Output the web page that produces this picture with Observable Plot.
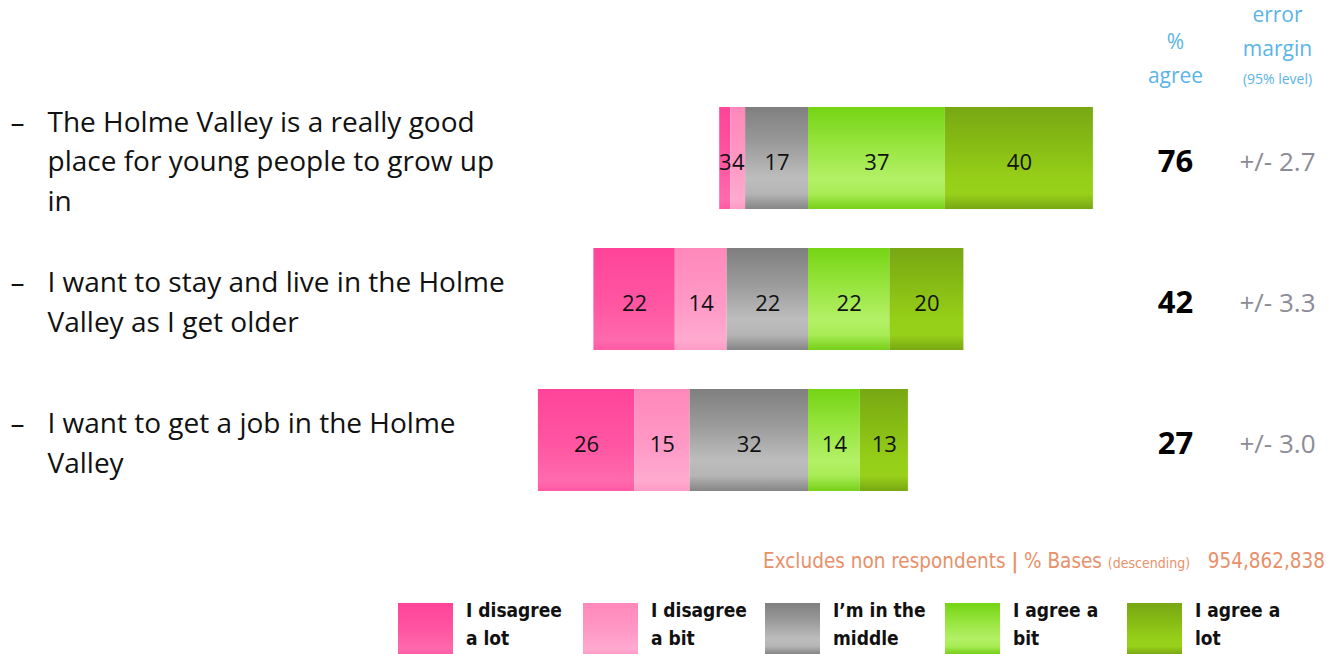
<!DOCTYPE html>
<html>
<head>
<meta charset="utf-8">
<script src="https://cdn.jsdelivr.net/npm/d3@7"></script>
<script src="https://cdn.jsdelivr.net/npm/@observablehq/plot@0.6"></script>
<style>
  html, body { margin: 0; padding: 0; background: #fff; }
  #wrap { position: relative; width: 1330px; height: 654px; overflow: hidden; font-family: "Open Sans", sans-serif; }
  #chart { position: absolute; left: 0; top: 0; }
  #foot { position: absolute; right: 5px; top: 549px; font-family: "Liberation Sans Narrow", "DejaVu Sans Condensed", sans-serif; font-size: 20.5px; color: #e8906a; white-space: nowrap; }
  #foot small { font-size: 14px; }
  #foot b { font-weight: bold; }
  #legend { position: absolute; left: 0; top: 0; width: 1330px; height: 654px; pointer-events: none; }
  .item { position: absolute; top: 603px; }
  .sw { position: absolute; left: 0; top: 0; width: 55px; height: 51px; }
  .lab { position: absolute; left: 68px; top: -7px; width: 112px; font-family: "Liberation Sans Narrow", "DejaVu Sans Condensed", sans-serif; font-weight: bold; font-size: 19px; line-height: 28px; color: #111; white-space: nowrap; }
</style>
</head>
<body>
<div id="wrap">
  <div id="chart"></div>
  <div id="foot">Excludes non respondents <b>|</b> % Bases <small>(descending)</small>&nbsp;&nbsp;&nbsp;954,862,838</div>
  <div id="legend"></div>
</div>
<script>
// ---- data ----
const statements = [
  "The Holme Valley is a really good\nplace for young people to grow up\nin",
  "I want to stay and live in the Holme\nValley as I get older",
  "I want to get a job in the Holme\nValley"
];
const categories = ["I disagree a lot", "I disagree a bit", "I'm in the middle", "I agree a bit", "I agree a lot"];
const legendLabels = ["I disagree\na lot", "I disagree\na bit", "I’m in the\nmiddle", "I agree a\nbit", "I agree a\nlot"];
const disagreeLot = [3, 22, 26];
const disagreeBit = [4, 14, 15];
const middle      = [17, 22, 32];
const agreeBit    = [37, 22, 14];
const agreeLot    = [40, 20, 13];
const pctAgree    = [76, 42, 27];
const errorMargin = ["+/- 2.7", "+/- 3.3", "+/- 3.0"];

// ---- style: vertical gradients per category ----
const gradStops = [
  [[0, "#ff4499"], [0.55, "#ff56a2"], [0.9, "#ff6aad"], [1, "#ff5aa4"]],
  [[0, "#ff88bb"], [0.55, "#ff99c6"], [0.9, "#ffaad0"], [1, "#ff9bc6"]],
  [[0, "#7f7f7f"], [0.35, "#9a9a9a"], [0.7, "#bdbdbd"], [0.85, "#b5b5b5"], [1, "#858585"]],
  [[0, "#76d414"], [0.35, "#95e43c"], [0.7, "#b3f066"], [0.85, "#a8ec55"], [1, "#76d018"]],
  [[0, "#78a713"], [0.35, "#86bb14"], [0.7, "#96cf18"], [0.85, "#98d11a"], [1, "#78a713"]]
];
const gid = i => `grad${i}`;

// ---- build segments ----
const segments = [];
statements.forEach((s, r) => {
  const vals = [disagreeLot[r], disagreeBit[r], middle[r], agreeBit[r], agreeLot[r]];
  const m0 = -vals[2], b0 = m0 - vals[1], l0 = b0 - vals[0];
  segments.push({row: s, cat: 0, x1: l0, x2: b0, v: vals[0]});
  segments.push({row: s, cat: 1, x1: b0, x2: m0, v: vals[1]});
  segments.push({row: s, cat: 2, x1: m0, x2: 0, v: vals[2]});
  segments.push({row: s, cat: 3, x1: 0, x2: vals[3], v: vals[3]});
  segments.push({row: s, cat: 4, x1: vals[3], x2: vals[3] + vals[4], v: vals[4]});
});
const rows = statements.map((s, r) => ({row: s, agree: pctAgree[r], err: errorMargin[r], dash: "–" + "\n".repeat(s.split("\n").length - 1)}));

const defsMark = () => {
  const defs = d3.create("svg:defs");
  gradStops.forEach((stops, i) => {
    const g = defs.append("linearGradient").attr("id", gid(i)).attr("x1", 0).attr("y1", 0).attr("x2", 0).attr("y2", 1);
    stops.forEach(([o, c]) => g.append("stop").attr("offset", o).attr("stop-color", c));
  });
  return defs.node();
};

const hdr = {frameAnchor: "top-right", textAnchor: "middle", lineAnchor: "middle", fill: "#5bb4e5"};

const chart = Plot.plot({
  width: 1330,
  height: 532,
  marginLeft: 438,
  marginRight: 152,
  marginTop: 67,
  marginBottom: 0,
  x: {domain: [-100, 100], axis: null},
  y: {domain: statements, axis: null, padding: 0.275},
  style: {fontFamily: "Open Sans, sans-serif", background: "#fff", overflow: "visible"},
  marks: [
    defsMark,
    Plot.barX(segments, {y: "row", x1: "x1", x2: "x2", fill: d => `url(#${gid(d.cat)})`, inset: 0}),
    Plot.text(segments, {y: "row", x: d => (d.x1 + d.x2) / 2, text: d => String(d.v), fontSize: 22, fill: "#111", dy: 4}),
    // left statement labels
    Plot.text(rows, {y: "row", text: "dash", frameAnchor: "left", dx: -428, dy: 0, textAnchor: "start", lineAnchor: "middle", fontSize: 28, lineHeight: 1.41, fill: "#111"}),
    Plot.text(rows, {y: "row", text: "row", frameAnchor: "left", dx: -391, dy: 0, textAnchor: "start", lineAnchor: "middle", fontSize: 28, lineHeight: 1.41, fill: "#111"}),
    // % agree and error margin
    Plot.text(rows, {y: "row", text: d => String(d.agree), frameAnchor: "right", textAnchor: "middle", dx: -3, dy: 4, fontSize: 31, fontWeight: "bold", fill: "#000"}),
    Plot.text(rows, {y: "row", text: "err", frameAnchor: "right", textAnchor: "middle", dx: 99, dy: 4, fontSize: 26, fill: "#8c8c96"}),
    // headers
    Plot.text(["%\nagree"], {...hdr, text: d => d, dx: -3, dy: -12, fontSize: 21, lineHeight: 1.6}),
    Plot.text(["error\nmargin"], {...hdr, text: d => d, dx: 99, dy: -39, fontSize: 21, lineHeight: 1.6}),
    Plot.text(["(95% level)"], {...hdr, text: d => d, dx: 99, dy: 12, fontSize: 14})
  ]
});
document.getElementById("chart").appendChild(chart);

// ---- legend ----
const legendX = [398, 583, 765, 945, 1127];
const legend = document.getElementById("legend");
categories.forEach((c, i) => {
  const item = document.createElement("div");
  item.className = "item";
  item.style.left = legendX[i] + "px";
  const sw = document.createElement("div");
  sw.className = "sw";
  sw.style.background = `linear-gradient(to bottom, ${gradStops[i].map(([o, col]) => `${col} ${o * 100}%`).join(", ")})`;
  const lab = document.createElement("div");
  lab.className = "lab";
  lab.innerHTML = legendLabels[i].replace("\n", "<br>");
  item.appendChild(sw);
  item.appendChild(lab);
  legend.appendChild(item);
});
</script>
</body>
</html>
